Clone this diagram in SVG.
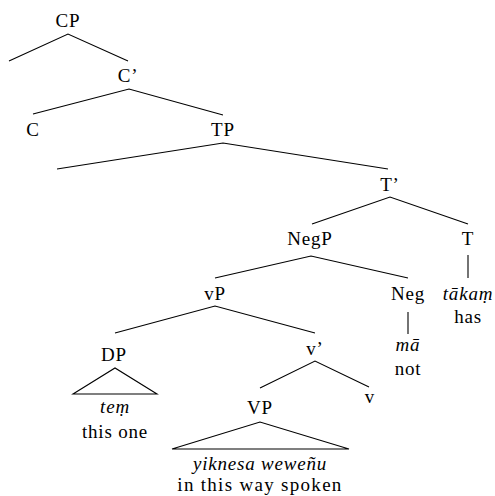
<svg xmlns="http://www.w3.org/2000/svg" width="495" height="496" viewBox="0 0 495 496">
<style>
text{font-family:'Liberation Serif','DejaVu Serif',serif;font-size:19px;letter-spacing:0.8px;text-anchor:middle;fill:#000}
.it{font-style:italic}
.e{fill:none;stroke:#000;stroke-width:1.1}
</style>
<rect width="495" height="496" fill="#fff"/>
<g id="connectors">
<path class="e" d="M9,61 L68,34 L128,61"/>
<path class="e" d="M33,114 L129,89 L223,115"/>
<path class="e" d="M57,169 L223,143 L388,169"/>
<path class="e" d="M312,224 L390,197 L468,224"/>
<path class="e" d="M468,255 V278"/>
<path class="e" d="M215,278 L311,256 L408,278"/>
<path class="e" d="M408,312 V334"/>
<path class="e" d="M115,333 L215,306 L315,333"/>
<path class="e" d="M73,394 L115,368 L157,394 Z"/>
<path class="e" d="M260,388 L315,361 L369,387"/>
<path class="e" d="M172,449 L260,422 L349,449 Z"/>
</g>
<g id="CP"><text x="68" y="27">CP</text></g>
<g id="Cbar"><text x="128" y="82">C’</text></g>
<g id="C"><text x="33" y="136">C</text></g>
<g id="TP"><text x="223" y="136">TP</text></g>
<g id="Tbar"><text x="390" y="191">T’</text></g>
<g id="NegP"><text x="310" y="245">NegP</text></g>
<g id="T"><text x="468" y="245">T</text></g>
<g id="vP"><text x="215" y="300">vP</text></g>
<g id="Neg"><text x="408" y="300">Neg</text></g>
<g id="takam"><text class="it" x="468" y="300">tākaṃ</text><text x="468" y="323">has</text></g>
<g id="DP"><text x="114" y="361">DP</text></g>
<g id="vbar"><text x="315" y="355">v’</text></g>
<g id="ma"><text class="it" x="408" y="351">mā</text><text x="408" y="375">not</text></g>
<g id="tem"><text class="it" x="115" y="413">teṃ</text><text x="115" y="438">this one</text></g>
<g id="VP"><text x="260" y="414">VP</text></g>
<g id="v"><text x="370" y="403">v</text></g>
<g id="yiknesa"><text class="it" x="260" y="470">yiknesa weweñu</text><text x="260" y="491" style="letter-spacing:1.3px">in this way spoken</text></g>
</svg>
